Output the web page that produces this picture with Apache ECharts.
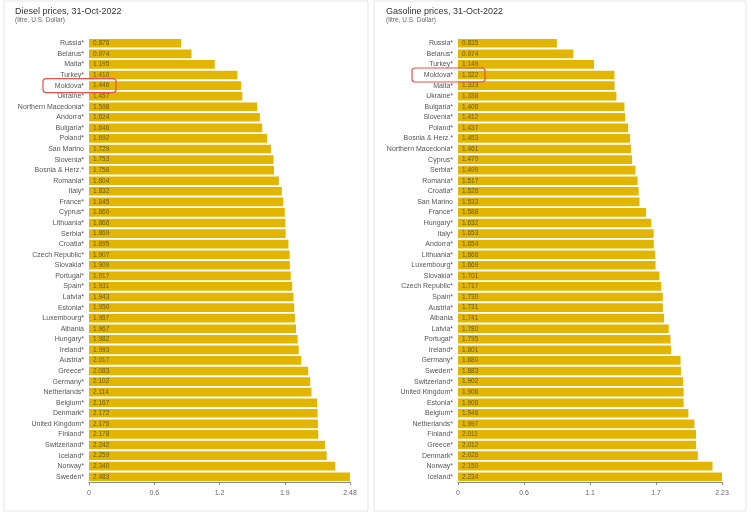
<!DOCTYPE html>
<html>
<head>
<meta charset="utf-8">
<script src="https://cdn.jsdelivr.net/npm/echarts@6/dist/echarts.min.js"></script>
<style>
  body { margin: 0; background: #fff; }
  #chart { width: 750px; height: 513px; }
</style>
</head>
<body>
<div id="chart"></div>
<script>
// diesel, litre in USD, sorted low -> high
const dieselCountries = ["Russia*", "Belarus*", "Malta*", "Turkey*", "Moldova*", "Ukraine*", "Northern Macedonia*", "Andorra*", "Bulgaria*", "Poland*", "San Marino", "Slovenia*", "Bosnia & Herz.*", "Romania*", "Italy*", "France*", "Cyprus*", "Lithuania*", "Serbia*", "Croatia*", "Czech Republic*", "Slovakia*", "Portugal*", "Spain*", "Latvia*", "Estonia*", "Luxembourg*", "Albania", "Hungary*", "Ireland*", "Austria*", "Greece*", "Germany*", "Netherlands*", "Belgium*", "Denmark*", "United Kingdom*", "Finland*", "Switzerland*", "Iceland*", "Norway*", "Sweden*"]
const dieselValues = [0.876, 0.974, 1.195, 1.410, 1.446, 1.457, 1.598, 1.624, 1.646, 1.692, 1.729, 1.753, 1.758, 1.804, 1.832, 1.845, 1.860, 1.866, 1.869, 1.895, 1.907, 1.909, 1.917, 1.931, 1.943, 1.950, 1.957, 1.967, 1.982, 1.993, 2.017, 2.083, 2.102, 2.114, 2.167, 2.172, 2.175, 2.178, 2.242, 2.259, 2.340, 2.483]

const gasCountries = ["Russia*", "Belarus*", "Turkey*", "Moldova*", "Malta*", "Ukraine*", "Bulgaria*", "Slovenia*", "Poland*", "Bosnia & Herz.*", "Northern Macedonia*", "Cyprus*", "Serbia*", "Romania*", "Croatia*", "San Marino", "France*", "Hungary*", "Italy*", "Andorra*", "Lithuania*", "Luxembourg*", "Slovakia*", "Czech Republic*", "Spain*", "Austria*", "Albania", "Latvia*", "Portugal*", "Ireland*", "Germany*", "Sweden*", "Switzerland*", "United Kingdom*", "Estonia*", "Belgium*", "Netherlands*", "Finland*", "Greece*", "Denmark*", "Norway*", "Iceland*"]
const gasValues = [0.835, 0.974, 1.149, 1.322, 1.323, 1.338, 1.406, 1.412, 1.437, 1.453, 1.461, 1.470, 1.499, 1.517, 1.526, 1.533, 1.588, 1.632, 1.653, 1.654, 1.666, 1.669, 1.701, 1.717, 1.730, 1.731, 1.741, 1.780, 1.795, 1.801, 1.880, 1.883, 1.902, 1.906, 1.906, 1.946, 1.997, 2.011, 2.012, 2.026, 2.150, 2.234]

const dieselMax = 2.48
const gasMax = 2.23
const barColor = "#e2b600"
const font = "Liberation Sans"

const chart = echarts.init(document.getElementById("chart"))

const catAxis = (idx, data) => ({
  type: "category",
  gridIndex: idx,
  data: data,
  inverse: true,
  axisLine: { show: false },
  axisTick: { show: false },
  axisLabel: { fontSize: 7, color: "#555", fontFamily: font, margin: 5, interval: 0 },
})
const valAxis = (idx, max) => ({
  type: "value",
  gridIndex: idx,
  min: 0,
  max: max,
  interval: max / 4,
  splitLine: { show: false },
  axisLine: { show: true, lineStyle: { color: "#888" } },
  axisTick: { show: true, length: 3, lineStyle: { color: "#888" } },
  axisLabel: {
    fontSize: 7, color: "#666", fontFamily: font,
    formatter: (v) => (v === 0 ? "0" : v >= max - 1e-6 ? max.toFixed(2) : v.toFixed(1)),
  },
})
const barSeries = (idx, data) => ({
  type: "bar",
  xAxisIndex: idx,
  yAxisIndex: idx,
  data: data,
  barCategoryGap: "18%",
  itemStyle: { color: barColor },
  label: {
    show: true, position: "insideLeft", offset: [-1, 0],
    fontSize: 6.5, color: "#6b5a00", fontFamily: font,
    formatter: (p) => p.value.toFixed(3),
  },
  silent: true,
})

chart.setOption({
  animation: false,
  title: [
    { text: "Diesel prices, 31-Oct-2022", subtext: "(litre, U.S. Dollar)", left: 10, top: 2, itemGap: 1,
      textStyle: { fontSize: 9, fontWeight: "normal", color: "#333", fontFamily: font },
      subtextStyle: { fontSize: 6.5, color: "#666", fontFamily: font } },
    { text: "Gasoline prices, 31-Oct-2022", subtext: "(litre, U.S. Dollar)", left: 381, top: 2, itemGap: 1,
      textStyle: { fontSize: 9, fontWeight: "normal", color: "#333", fontFamily: font },
      subtextStyle: { fontSize: 6.5, color: "#666", fontFamily: font } },
  ],
  grid: [
    { left: 89, top: 38, width: 261, height: 444 },
    { left: 458, top: 38, width: 264, height: 444 },
  ],
  xAxis: [valAxis(0, dieselMax), valAxis(1, gasMax)],
  yAxis: [catAxis(0, dieselCountries), catAxis(1, gasCountries)],
  series: [barSeries(0, dieselValues), barSeries(1, gasValues)],
})

// panel frames and Moldova highlight boxes
const box = (gridIdx, cats) => {
  const i = cats.indexOf("Moldova*")
  const y = chart.convertToPixel({ gridIndex: gridIdx }, [0, i])[1]
  const x0 = chart.convertToPixel({ gridIndex: gridIdx }, [0, 0])[0]
  return {
    type: "rect",
    shape: { x: x0 - 46, y: y - 7, width: 73, height: 14, r: 3 },
    style: { fill: "none", stroke: "#e8504a", lineWidth: 1.2 },
    z: 100,
  }
}
chart.setOption({
  graphic: [
    { type: "rect", shape: { x: 4, y: 1, width: 364, height: 510 }, style: { fill: "none", stroke: "#e4e4e4" } },
    { type: "rect", shape: { x: 374, y: 1, width: 372, height: 510 }, style: { fill: "none", stroke: "#e4e4e4" } },
    box(0, dieselCountries),
    box(1, gasCountries),
  ],
})
</script>
</body>
</html>
